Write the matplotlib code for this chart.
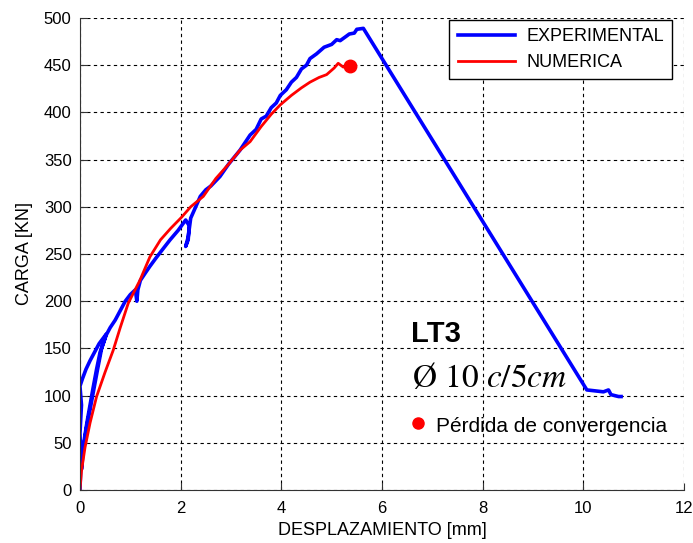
"""Load-displacement curve LT3: experimental vs numerical."""

import matplotlib

matplotlib.use("Agg")
import matplotlib.pyplot as plt  # noqa: E402

plt.rcParams["font.family"] = ["Liberation Sans", "DejaVu Sans"]
plt.rcParams["mathtext.fontset"] = "stix"

# --- data ---
exp_x = [0.0, 0.02, 0.0, 0.03, 0.0, 0.05, 0.12, 0.2, 0.3, 0.38, 0.45, 0.52,
         0.48, 0.4, 0.33, 0.26, 0.2, 0.14, 0.09, 0.05, 0.03, 0.07, 0.13,
         0.2, 0.28, 0.35, 0.43, 0.52, 0.6, 0.7, 0.8, 0.9, 1.0, 1.1, 1.13,
         1.15, 1.2, 1.3, 1.39, 1.5, 1.6, 1.79, 1.95, 2.1, 2.17, 2.15, 2.1,
         2.15, 2.2, 2.3, 2.39, 2.5, 2.6, 2.78, 2.95, 3.18, 3.38, 3.5, 3.6,
         3.7, 3.8, 3.9, 3.98, 4.1, 4.2, 4.3, 4.4, 4.5, 4.57, 4.7, 4.85, 5.0,
         5.1, 5.17, 5.3, 5.35, 5.45, 5.5, 5.63, 10.07, 10.4, 10.5, 10.55,
         10.7, 10.75]
exp_y = [0, 30, 60, 90, 110, 118, 128, 137, 147, 155, 160, 165,
         158, 146, 128, 108, 90, 72, 55, 38, 22, 45, 66,
         85, 108, 128, 150, 164, 172, 180, 190, 200, 207, 212, 200,
         212, 222, 230, 237, 245, 252, 265, 275, 286, 280, 265, 258,
         268, 288, 300, 311, 318, 322, 332, 345, 360, 376, 382, 393,
         396, 405, 410, 418, 424, 432, 437, 446, 450, 457, 462, 469, 472,
         477, 476, 481, 483, 484, 488, 489, 106, 104,
         106, 101, 99, 99]

num_x = [0.0, 0.03, 0.1, 0.2, 0.33, 0.5, 0.66, 0.8, 0.96, 1.19, 1.39, 1.6,
         1.8, 2.02, 2.2, 2.45, 2.7, 2.95, 3.18, 3.38, 3.6, 3.8, 3.98, 4.2,
         4.4, 4.57, 4.75, 4.9, 5.05, 5.13, 5.23, 5.3]
num_y = [0, 20, 45, 71, 99, 125, 148, 172, 198, 222, 247, 265,
         277, 289, 300, 311, 330, 345, 360, 369, 385, 398, 408, 418,
         426, 432, 437, 440, 447, 452, 448, 449]

conv_x = [5.37]
conv_y = [449]

xticks = [0, 2, 4, 6, 8, 10, 12]
yticks = list(range(0, 501, 50))

fig = plt.figure(figsize=(6.93, 5.43), dpi=100)
ax = fig.add_axes([0.1154, 0.0976, 0.8716, 0.8693])

ax.plot(exp_x, exp_y, color="#0000ff", lw=2.6, label="EXPERIMENTAL")
ax.plot(num_x, num_y, color="#ff0000", lw=2.0, label="NUMERICA")
ax.plot(conv_x, conv_y, "o", color="#ff0000", ms=9)

ax.set_xlim(0, 12)
ax.set_ylim(0, 500)
ax.set_xticks(xticks)
ax.set_yticks(yticks)
ax.tick_params(direction="in", labelsize=12, length=5, colors="#333333",
               labelcolor="black")
ax.tick_params(axis="x", pad=8)
ax.tick_params(axis="y", pad=6)
ax.grid(True, color="black", linestyle=(0, (3, 3)), lw=0.8)
for side in ("top", "right"):
    ax.spines[side].set_visible(False)
for side in ("left", "bottom"):
    ax.spines[side].set_color("#333333")

ax.set_xlabel("DESPLAZAMIENTO [mm]", fontsize=13, labelpad=4)
ax.set_ylabel("CARGA [KN]", fontsize=13, labelpad=8)

leg = ax.legend(loc="upper right", bbox_to_anchor=(0.980, 0.996),
                borderaxespad=0, fontsize=13, handlelength=3.2,
                handletextpad=0.6, borderpad=0.45, fancybox=False,
                framealpha=1)
leg.get_frame().set_edgecolor("black")

# annotations
ax.text(6.58, 157, "LT3", fontsize=21, fontweight="bold", va="baseline")
ax.text(6.59, 109, "Ø 10 $c/5cm$", fontsize=24, family="STIXGeneral",
        va="baseline")
ax.plot([6.72], [70.6], "o", color="#ff0000", ms=8)
ax.text(7.07, 61.8, "Pérdida de convergencia", fontsize=15, va="baseline")

fig.savefig("out.png", dpi=100)
